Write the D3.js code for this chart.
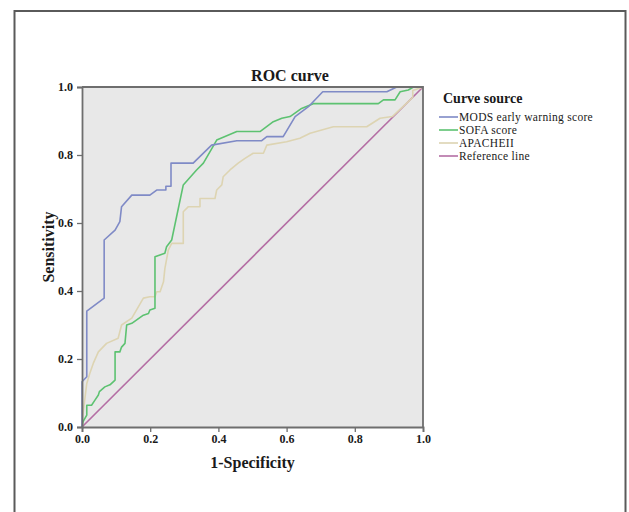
<!DOCTYPE html>
<html>
<head>
<meta charset="utf-8">
<script src="https://cdn.jsdelivr.net/npm/d3@7"></script>
<style>
  body { margin: 0; background: #fff; }
  text { font-family: "Liberation Serif", "DejaVu Serif", serif; fill: #1a1a1a; }
</style>
</head>
<body>
<svg id="sg"></svg>
<script>
// ROC points: [1-specificity, sensitivity]
let modsPoints = [[0,0],[0,0.133],[0.014,0.148],[0.014,0.341],[0.065,0.379],[0.065,0.55],[0.097,0.579],[0.111,0.604],[0.116,0.648],[0.146,0.682],[0.199,0.682],[0.219,0.697],[0.246,0.697],[0.246,0.708],[0.261,0.708],[0.261,0.776],[0.326,0.776],[0.38,0.829],[0.454,0.842],[0.527,0.842],[0.542,0.854],[0.59,0.854],[0.625,0.913],[0.664,0.942],[0.706,0.986],[0.894,0.986],[0.923,1],[1,1]];
let sofaPoints = [[0,0],[0.003,0.016],[0.014,0.035],[0.014,0.064],[0.028,0.064],[0.038,0.079],[0.048,0.094],[0.051,0.104],[0.067,0.118],[0.082,0.124],[0.097,0.138],[0.097,0.221],[0.111,0.221],[0.116,0.235],[0.126,0.246],[0.131,0.3],[0.146,0.305],[0.18,0.329],[0.195,0.334],[0.199,0.344],[0.214,0.349],[0.214,0.501],[0.243,0.511],[0.248,0.53],[0.263,0.55],[0.297,0.712],[0.336,0.756],[0.356,0.776],[0.395,0.844],[0.454,0.869],[0.522,0.869],[0.561,0.898],[0.586,0.908],[0.61,0.913],[0.644,0.937],[0.678,0.951],[0.869,0.951],[0.884,0.962],[0.918,0.962],[0.933,0.986],[0.957,0.991],[0.972,1],[1,1]];
let apachePoints = [[0,0],[0.003,0.04],[0.014,0.128],[0.023,0.158],[0.033,0.187],[0.048,0.221],[0.072,0.246],[0.106,0.261],[0.116,0.3],[0.146,0.32],[0.18,0.379],[0.199,0.383],[0.214,0.383],[0.219,0.398],[0.229,0.398],[0.239,0.427],[0.243,0.466],[0.253,0.52],[0.263,0.54],[0.297,0.54],[0.297,0.633],[0.312,0.648],[0.346,0.648],[0.346,0.672],[0.39,0.672],[0.395,0.697],[0.41,0.712],[0.414,0.736],[0.434,0.756],[0.458,0.776],[0.478,0.79],[0.502,0.805],[0.532,0.805],[0.542,0.829],[0.6,0.839],[0.639,0.849],[0.669,0.864],[0.737,0.883],[0.835,0.883],[0.874,0.908],[0.91,0.913],[0.96,0.96],[0.97,0.97],[0.97,0.99],[1,1]];
let referencePoints = [[0,0],[1,1]];

let seriesNames = ["MODS early warning score", "SOFA score", "APACHEII", "Reference line"];
let seriesColors = ["#7f8ac6", "#5dc271", "#ddd4b2", "#b46ea4"];
let tickValues = [0, 0.2, 0.4, 0.6, 0.8, 1.0];

function drawChart() {
  let svgWidth = 629,
    svgHeight = 512;
  let margin = { top: 87, left: 82 };
  let width = 341,
    height = 340;

  let svg = d3.select("#sg")
    .attr("width", svgWidth)
    .attr("height", svgHeight);

  // outer frame (runs off the bottom like the original)
  svg.append("rect")
    .attr("x", 14.5).attr("y", 11)
    .attr("width", 611).attr("height", 520)
    .attr("fill", "#fff")
    .attr("stroke", "#5a5a5a")
    .attr("stroke-width", 2);

  let g = svg.append("g")
    .attr("transform", "translate(" + margin.left + "," + margin.top + ")");

  let x = d3.scaleLinear().domain([0, 1]).range([0, width]);
  let y = d3.scaleLinear().domain([0, 1]).range([height, 0]);

  g.append("rect")
    .attr("width", width).attr("height", height)
    .attr("fill", "#e8e8e8");

  let line = d3.line()
    .x(function(d) { return x(d[0]); })
    .y(function(d) { return y(d[1]); });

  let allSeries = [modsPoints, sofaPoints, apachePoints, referencePoints];
  // draw reference first, then apache, sofa, mods on top
  [3, 2, 1, 0].forEach(function(i) {
    g.append("path")
      .datum(allSeries[i])
      .attr("fill", "none")
      .attr("stroke", seriesColors[i])
      .attr("stroke-width", 1.6)
      .attr("stroke-linejoin", "round")
      .attr("d", line);
  });

  // frame on top and right
  g.append("path")
    .attr("d", "M0,0H" + width + "V" + height)
    .attr("fill", "none")
    .attr("stroke", "#6e6e6e")
    .attr("stroke-width", 1.8);

  let fmt = d3.format(".1f");
  let xAxis = d3.axisBottom(x).tickValues(tickValues).tickFormat(fmt).tickSize(5).tickPadding(2);
  let yAxis = d3.axisLeft(y).tickValues(tickValues).tickFormat(fmt).tickSize(5).tickPadding(4);

  let gx = g.append("g")
    .attr("transform", "translate(0," + height + ")")
    .call(xAxis);
  let gy = g.append("g").call(yAxis);

  [gx, gy].forEach(function(a) {
    a.select(".domain").attr("stroke", "#6e6e6e").attr("stroke-width", 1.8);
    a.selectAll(".tick line").attr("stroke", "#6e6e6e").attr("stroke-width", 1.3);
    a.selectAll(".tick text")
      .attr("font-family", "Liberation Serif")
      .attr("font-weight", "bold")
      .attr("font-size", 12)
      .attr("fill", "#333");
  });

  svg.append("text")
    .attr("x", 290).attr("y", 81)
    .attr("text-anchor", "middle")
    .attr("font-size", 16)
    .attr("font-weight", "bold")
    .text("ROC curve");

  svg.append("text")
    .attr("x", margin.left + x(0.5)).attr("y", 468)
    .attr("text-anchor", "middle")
    .attr("font-size", 16)
    .attr("font-weight", "bold")
    .text("1-Specificity");

  svg.append("text")
    .attr("transform", "translate(54,247) rotate(-90)")
    .attr("text-anchor", "middle")
    .attr("font-size", 16)
    .attr("font-weight", "bold")
    .text("Sensitivity");

  // legend
  let lg = svg.append("g").attr("transform", "translate(439,0)");
  lg.append("text")
    .attr("x", 4).attr("y", 103)
    .attr("font-size", 14)
    .attr("font-weight", "bold")
    .text("Curve source");

  seriesNames.forEach(function(name, i) {
    let yy = 117 + i * 13;
    lg.append("line")
      .attr("x1", 0).attr("x2", 19)
      .attr("y1", yy).attr("y2", yy)
      .attr("stroke", seriesColors[i])
      .attr("stroke-width", 1.6);
    lg.append("text")
      .attr("x", 20).attr("y", yy + 4)
      .attr("font-size", 11.5)
      .attr("letter-spacing", 0.3)
      .text(name);
  });
}

drawChart();
</script>
</body>
</html>
